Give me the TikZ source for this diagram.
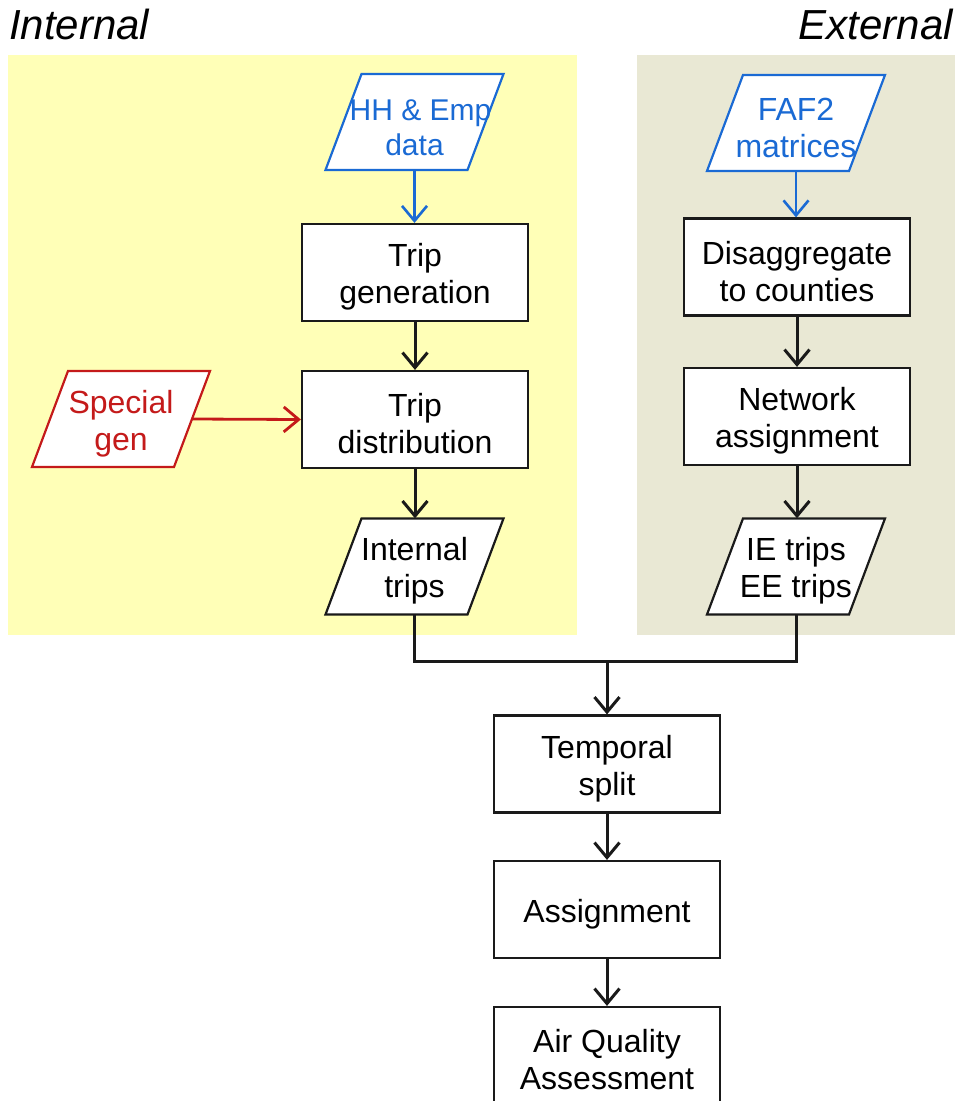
\documentclass[tikz,border=0pt]{standalone}
\usepackage{fontspec}
\setmainfont{Liberation Sans}
\usetikzlibrary{arrows.meta}
\definecolor{panelyellow}{HTML}{FFFFB7}
\definecolor{panelgrey}{HTML}{E9E8D4}
\definecolor{datablue}{HTML}{1A6AD4}
\definecolor{specialred}{HTML}{C41A1A}
\definecolor{edge}{HTML}{1A1A1A}
\pgfdeclarelayer{panels}
\pgfdeclarelayer{shapes}
\pgfsetlayers{panels,shapes,main}
% invisible strut that sets the text of a box slightly low
\newcommand{\firstlinelift}{\rule{0pt}{32pt}}
% parallelogram outline (178 x 96, slanted 36 to the right) round a named data node
\newcommand{\dataoutline}[2]{%
  \begin{pgfonlayer}{shapes}
    \filldraw[fill=white, line width=2.2pt, line join=miter, draw=#2]
      ([shift={(-89,48)}]#1.center) -- ([shift={(53,48)}]#1.center)
      -- ([shift={(89,-48)}]#1.center) -- ([shift={(-53,-48)}]#1.center) -- cycle;
  \end{pgfonlayer}}
\begin{document}
\begin{tikzpicture}[x=1pt,y=-1pt,
  every node/.style={font=\fontsize{32}{37}\selectfont, align=center, inner sep=0pt},
  procbox/.style={draw=edge, line width=2.2pt, fill=white,
    minimum width=226pt, minimum height=97pt},
  iobox/.style={minimum width=142pt, minimum height=96pt},
  title/.style={font=\fontsize{42}{42}\selectfont\itshape},
  flow/.style={draw=edge, line width=3pt, -{Straight Barb[length=15pt,width=25pt]}},
  blueflow/.style={draw=datablue, line width=2.6pt, -{Straight Barb[length=15pt,width=25pt]}},
  redflow/.style={draw=specialred, line width=2.8pt, -{Straight Barb[length=15pt,width=25pt]}}
]
\useasboundingbox (0,0) rectangle (959,1101);
\clip (0,0) rectangle (959,1101);

% background panels
\begin{pgfonlayer}{panels}
  \fill[panelyellow] (8,55) rectangle (577,635);
  \fill[panelgrey] (637,55) rectangle (955,635);
\end{pgfonlayer}

% panel titles
\node[title, anchor=base west] (inttitle) at (9,39) {Internal};
\node[title, anchor=base east] (exttitle) at (953,39) {External};

% internal branch
\node[iobox, text=datablue, font=\fontsize{30}{35}\selectfont] (hh) at (414.5,122) {\firstlinelift\hspace*{12pt}HH \& Emp\\data};
\dataoutline{hh}{datablue}
\node[procbox] (tg) at (415,272.5) {\firstlinelift Trip\\generation};
\node[procbox] (td) at (415,419.5) {\firstlinelift Trip\\distribution};
\node[iobox, text=specialred] (sg) at (121,419) {\firstlinelift Special\\gen};
\dataoutline{sg}{specialred}
\node[iobox] (it) at (414.5,566.5) {\firstlinelift Internal\\trips};
\dataoutline{it}{edge}

% external branch
\node[iobox, text=datablue] (faf) at (796,123) {\firstlinelift FAF2\\matrices};
\dataoutline{faf}{datablue}
\node[procbox] (dc) at (797,267) {\firstlinelift Disaggregate\\to counties};
\node[procbox] (na) at (797,416.5) {\firstlinelift Network\\assignment};
\node[iobox] (ie) at (796,566.5) {\firstlinelift IE trips\\EE trips};
\dataoutline{ie}{edge}

% common chain
\node[procbox] (ts) at (607,764) {\firstlinelift Temporal\\split};
\node[procbox] (as) at (607,909.5) {\firstlinelift Assignment};
\node[procbox] (aq) at (607,1055.5) {\firstlinelift Air Quality\\Assessment};

\coordinate (merge) at (607,661);

% connectors
\draw[blueflow] (hh.south) -- (hh.south |- tg.north);
\draw[flow] (tg.south) -- (td.north);
\draw[redflow] (sg.east) -- (td.west);
\draw[flow] (td.south) -- (td.south |- it.north);

\draw[blueflow] (faf.south) -- (faf.south |- dc.north);
\draw[flow] (dc.south) -- (na.north);
\draw[flow] (na.south) -- (na.south |- ie.north);

\draw[edge, line width=3pt] (it.south) |- (merge) -| (ie.south);
\draw[flow] (merge) -- (ts.north);
\draw[flow] (ts.south) -- (as.north);
\draw[flow] (as.south) -- (aq.north);
\end{tikzpicture}
\end{document}
